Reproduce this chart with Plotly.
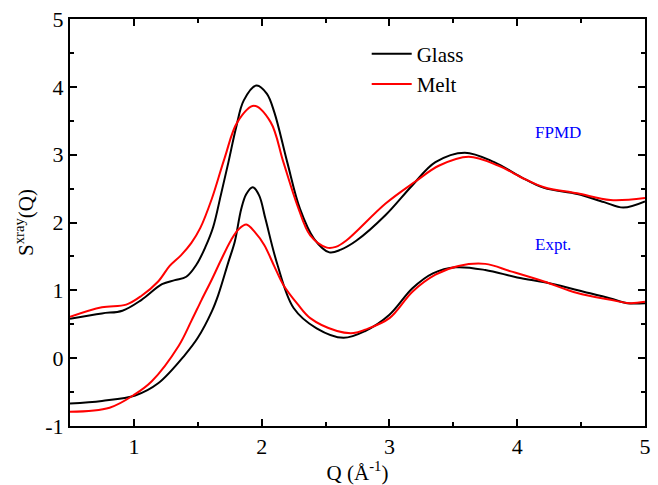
import plotly.graph_objects as go

# FPMD (upper curves)
q_fpmd_glass = [0.5, 0.75, 0.91, 1.06, 1.22, 1.32, 1.41, 1.49, 1.56, 1.62, 1.68, 1.74, 1.80, 1.86, 1.96, 2.04, 2.10, 2.20, 2.30, 2.41, 2.53, 2.62, 2.74, 2.97, 3.18, 3.36, 3.59, 3.82, 4.03, 4.21, 4.47, 4.68, 4.83, 5.0]
s_fpmd_glass = [0.58, 0.66, 0.70, 0.86, 1.09, 1.15, 1.20, 1.38, 1.64, 1.93, 2.40, 2.89, 3.40, 3.80, 4.02, 3.90, 3.62, 2.89, 2.20, 1.76, 1.56, 1.60, 1.73, 2.11, 2.55, 2.89, 3.03, 2.89, 2.67, 2.51, 2.42, 2.30, 2.22, 2.31]

q_fpmd_melt = [0.5, 0.75, 0.94, 1.06, 1.19, 1.28, 1.37, 1.45, 1.52, 1.61, 1.71, 1.81, 1.94, 2.07, 2.17, 2.28, 2.38, 2.51, 2.58, 2.66, 2.97, 3.20, 3.39, 3.62, 3.85, 4.06, 4.21, 4.47, 4.73, 5.0]
s_fpmd_melt = [0.61, 0.75, 0.79, 0.92, 1.13, 1.36, 1.52, 1.70, 1.92, 2.35, 2.95, 3.48, 3.72, 3.48, 2.89, 2.25, 1.81, 1.63, 1.64, 1.73, 2.28, 2.60, 2.84, 2.97, 2.84, 2.64, 2.52, 2.43, 2.33, 2.36]

# Experiment (lower curves)
q_expt_glass = [0.5, 0.75, 1.01, 1.19, 1.40, 1.50, 1.61, 1.66, 1.74, 1.79, 1.84, 1.88, 1.93, 1.98, 2.03, 2.12, 2.25, 2.43, 2.64, 2.81, 3.0, 3.18, 3.34, 3.52, 3.75, 4.0, 4.26, 4.52, 4.73, 4.86, 5.0]
s_expt_glass = [-0.67, -0.63, -0.55, -0.37, 0.05, 0.30, 0.69, 0.93, 1.42, 1.72, 2.20, 2.42, 2.52, 2.40, 2.05, 1.40, 0.74, 0.44, 0.30, 0.40, 0.64, 1.03, 1.25, 1.34, 1.30, 1.19, 1.10, 0.98, 0.88, 0.81, 0.81]

q_expt_melt = [0.5, 0.81, 1.01, 1.14, 1.35, 1.45, 1.53, 1.61, 1.68, 1.76, 1.82, 1.88, 1.95, 2.02, 2.10, 2.17, 2.28, 2.38, 2.59, 2.72, 2.81, 3.0, 3.18, 3.36, 3.54, 3.75, 3.95, 4.21, 4.47, 4.73, 4.88, 5.0]
s_expt_melt = [-0.79, -0.73, -0.53, -0.34, 0.18, 0.55, 0.86, 1.16, 1.44, 1.74, 1.90, 1.97, 1.85, 1.67, 1.35, 1.08, 0.80, 0.59, 0.40, 0.37, 0.42, 0.59, 0.98, 1.23, 1.36, 1.39, 1.28, 1.13, 0.96, 0.86, 0.81, 0.83]

x_ticks = [1, 2, 3, 4, 5]
x_tick_text = ["1", "2", "3", "4", "5"]
y_ticks = [-1, 0, 1, 2, 3, 4, 5]
y_tick_text = ["-1", "0", "1", "2", "3", "4", "5"]

FONT = "Liberation Serif"
fig = go.Figure()

def add(q, s, color, name, show):
    fig.add_trace(go.Scatter(x=q, y=s, mode="lines", name=name, showlegend=show,
                             line=dict(color=color, width=2, shape="spline", smoothing=1.0)))

add(q_fpmd_glass, s_fpmd_glass, "black", "Glass", True)
add(q_fpmd_melt, s_fpmd_melt, "red", "Melt", True)
add(q_expt_glass, s_expt_glass, "black", "Glass", False)
add(q_expt_melt, s_expt_melt, "red", "Melt", False)

axis_common = dict(showline=True, linecolor="black", linewidth=2, mirror="ticks",
                   ticks="inside", ticklen=7, tickwidth=1.5, tickcolor="black",
                   showgrid=False, zeroline=False,
                   tickfont=dict(family=FONT, size=22, color="black"),
                   minor=dict(ticks="inside", ticklen=4, tickwidth=1.5, tickcolor="black", dtick=0.5))

fig.update_xaxes(range=[0.5, 5], tickmode="array", tickvals=x_ticks, ticktext=x_tick_text,
                 title=dict(text="Q (Å<sup>-1</sup>)", font=dict(family=FONT, size=21, color="black"), standoff=0),
                 **axis_common)
fig.update_yaxes(range=[-1, 5], tickmode="array", tickvals=y_ticks, ticktext=y_tick_text,
                 title=dict(text="S<sup>xray</sup>(Q)", font=dict(family=FONT, size=21, color="black"), standoff=6),
                 **axis_common)

fig.add_annotation(x=4.12, y=3.33, text="FPMD", showarrow=False, xanchor="left",
                   font=dict(family=FONT, size=17, color="blue"))
fig.add_annotation(x=4.12, y=1.67, text="Expt.", showarrow=False, xanchor="left",
                   font=dict(family=FONT, size=17, color="blue"))

fig.update_layout(
    width=658, height=485,
    margin=dict(l=70, r=7, t=16, b=59),
    plot_bgcolor="white", paper_bgcolor="white",
    legend=dict(x=0.516, y=0.964, xanchor="left", yanchor="top", bgcolor="rgba(0,0,0,0)",
                font=dict(family=FONT, size=21, color="black"), tracegroupgap=0,
                itemwidth=40),
)

fig.write_html("out.html", config={"displayModeBar": False},
               post_script="document.body.style.margin='0';")
